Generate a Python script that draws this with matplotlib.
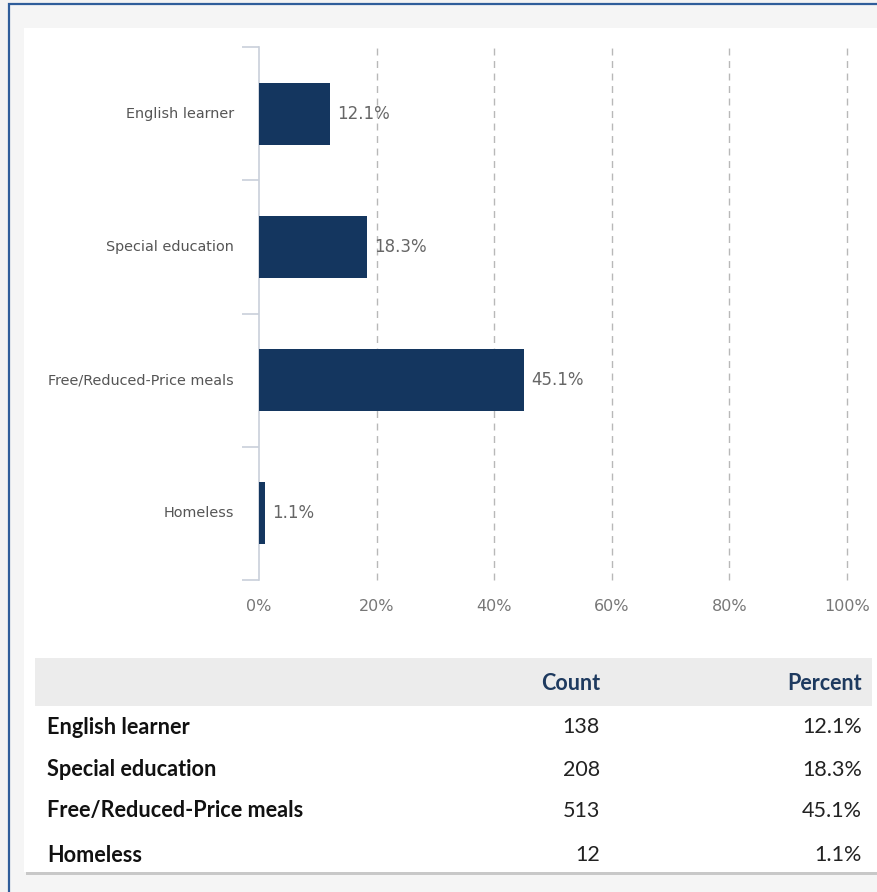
import matplotlib
matplotlib.use("Agg")
import matplotlib.pyplot as plt
from matplotlib.patches import Rectangle

categories = ["English learner", "Special education", "Free/Reduced-Price meals", "Homeless"]
percents = [12.1, 18.3, 45.1, 1.1]
counts = [138, 208, 513, 12]
xticks = [0, 20, 40, 60, 80, 100]
xtick_labels = ["0%", "20%", "40%", "60%", "80%", "100%"]
table_header = ["Count", "Percent"]

W, H = 878, 892
fig = plt.figure(figsize=(W / 100, H / 100), dpi=100)
fig.patch.set_facecolor("#f3f3f3")

def fx(px):
    return px / W

def fy(py):
    return 1 - py / H

# outer blue frame
fig.patches.append(Rectangle((fx(9), fy(895)), fx(880), 891 / H, transform=fig.transFigure,
                             facecolor="#f5f5f5", edgecolor="#2f5d9a", linewidth=1.6, zorder=0))
# shadow of inner panel
fig.patches.append(Rectangle((fx(26), fy(875)), fx(856), 846 / H, transform=fig.transFigure,
                             facecolor="#c8c8c8", edgecolor="none", zorder=1))
# inner white panel
fig.patches.append(Rectangle((fx(24), fy(872)), fx(853), 844 / H, transform=fig.transFigure,
                             facecolor="white", edgecolor="none", zorder=2))

font_chart = ["DejaVu Sans"]
ax = fig.add_axes([fx(259), fy(580), fx(847 - 259), (580 - 47) / H])
ax.set_facecolor("none")
ax.set_zorder(3)

n = len(categories)
ypos = list(range(n))
ax.barh(ypos, percents, height=0.465, color="#14365f", zorder=3)
ax.set_xlim(0, 100)
ax.set_ylim(n - 0.5, -0.5)

for y, p in zip(ypos, percents):
    ax.text(p + 1.2, y, f"{p:.1f}%", va="center", ha="left", fontsize=12,
            color="#666666", family=font_chart, zorder=4)

for s in ["top", "right", "bottom"]:
    ax.spines[s].set_visible(False)
ax.spines["left"].set_color("#c9d0da")
ax.spines["left"].set_linewidth(1.2)

ax.set_xticks(xticks)
ax.set_xticklabels(xtick_labels, family=font_chart, fontsize=11.5, color="#777777")
ax.tick_params(axis="x", length=0, pad=14)
for x in xticks[1:]:
    ax.axvline(x, color="#b8b8b8", linestyle=(0, (5, 4)), linewidth=1.0, zorder=1,
               clip_on=False)

# category ticks at boundaries
ax.set_yticks([i - 0.5 for i in range(n + 1)], minor=False)
ax.set_yticklabels([])
ax.tick_params(axis="y", length=12, color="#c9d0da", width=1.2)
for y, c in zip(ypos, categories):
    ax.text(-4.3, y, c, ha="right", va="center", fontsize=10.4, color="#555555",
            family=font_chart)

# table
font_tab = ["Lato", "DejaVu Sans"]
fig.patches.append(Rectangle((fx(35), fy(706)), fx(872 - 35), 48 / H, transform=fig.transFigure,
                             facecolor="#ececec", edgecolor="none", zorder=3))
fig.text(fx(600), fy(683), table_header[0], ha="right", va="center", fontsize=15.5,
         fontweight="bold", color="#1e3a5f", family=font_tab, zorder=5)
fig.text(fx(862), fy(683), table_header[1], ha="right", va="center", fontsize=15.5,
         fontweight="bold", color="#1e3a5f", family=font_tab, zorder=5)
row_y = [727, 770, 811, 855]
for ry, c, cnt, p in zip(row_y, categories, counts, percents):
    fig.text(fx(47), fy(ry), c, ha="left", va="center", fontsize=15.6, fontweight="bold",
             color="#111111", family=font_tab, zorder=5)
    fig.text(fx(600), fy(ry), f"{cnt}", ha="right", va="center", fontsize=15.5,
             color="#222222", family=font_tab, zorder=5)
    fig.text(fx(862), fy(ry), f"{p:.1f}%", ha="right", va="center", fontsize=15.5,
             color="#222222", family=font_tab, zorder=5)

fig.savefig("out.png", dpi=100, facecolor=fig.get_facecolor())
